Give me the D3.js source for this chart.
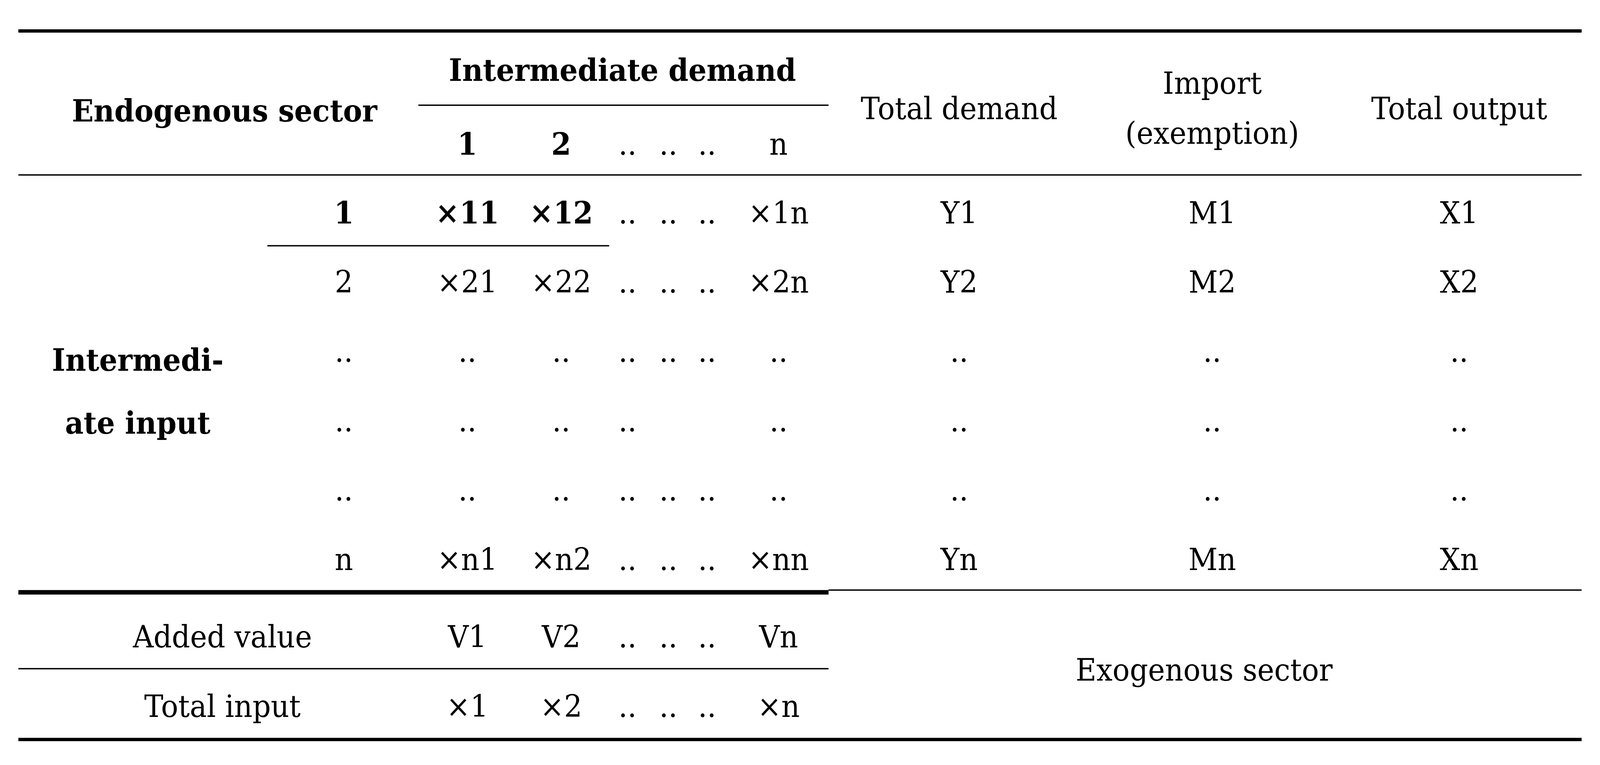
<!DOCTYPE html>
<html><head><meta charset="utf-8">
<script src="https://cdn.jsdelivr.net/npm/d3@7"></script>
<style>html,body{margin:0;padding:0;background:#fff;overflow:hidden}svg{display:block}</style></head>
<body><svg id="c"></svg>
<script>
const columns = ["label","c1","c2","d1","d2","d3","cn","Y","M","X"];
const colHeaders = ["","1","2","..","..","..","n"];
const rowLabels = ["1","2","..","..","..","n"];
const cells = [
  ["×11","×12","..","..","..","×1n","Y1","M1","X1"],
  ["×21","×22","..","..","..","×2n","Y2","M2","X2"],
  ["..","..","..","..","..","..","..","..",".."],
  ["..","..","..","","","..","..","..",".."],
  ["..","..","..","..","..","..","..","..",".."],
  ["×n1","×n2","..","..","..","×nn","Yn","Mn","Xn"]
];
const boldCells = [[0,0],[0,1]];
const addedValue = ["V1","V2","..","..","..","Vn"];
const totalInput = ["×1","×2","..","..","..","×n"];

const svg = d3.select("#c").attr("width",window.innerWidth).attr("height",window.innerHeight)
  .attr("viewBox","0 0 1568 691").attr("preserveAspectRatio","none");
const x = d3.scaleOrdinal().domain(columns).range([337,458,550,615,655,693,763,940,1188,1430]);
const y = d3.scaleLinear().domain([0,691]).range([0,691]);
const rowY = d3.scalePoint().domain(d3.range(6)).range([y(192),y(505)]);
const font = "'DejaVu Serif', serif";
const fs = 28;

function txt(xx,yy,s,bold,anchor){
  svg.append("text").attr("x",xx).attr("y",yy).attr("text-anchor",anchor||"middle")
    .attr("dominant-baseline","central").attr("font-family",font).attr("font-size",fs)
    .attr("font-weight",bold?"bold":"normal").attr("fill","#000").text(s);
}
function line(x1,x2,yy,w){
  svg.append("line").attr("x1",x1).attr("x2",x2).attr("y1",yy).attr("y2",yy)
    .attr("stroke","#000").attr("stroke-width",w);
}
const L=18, R=1550, mid=812;
line(L,R,y(28),3);
line(410,mid,y(95),1.2);
line(L,R,y(158),1.2);
line(262,597,y(222),1.2);
line(L,mid,y(535),4);
line(mid,R,y(533),1.2);
line(L,mid,y(604),1.2);
line(L,R,y(668),3);

txt(220,y(100),"Endogenous sector",true);
txt(610,y(63),"Intermediate demand",true);
colHeaders.forEach((h,i)=>{ if(i>0) txt(x(columns[i]),y(130),h,i<=2); });
txt(x("Y"),y(98),"Total demand");
txt(x("M"),y(75),"Import");
txt(x("M"),y(120),"(exemption)");
txt(x("X"),y(98),"Total output");

rowLabels.forEach((r,i)=>txt(x("label"),rowY(i),r,i===0));
cells.forEach((row,i)=>row.forEach((c,j)=>{
  if(c) txt(x(columns[j+1]),rowY(i),c,boldCells.some(b=>b[0]===i&&b[1]===j));
}));
txt(135,y(325),"Intermedi-",true);
txt(135,y(382),"ate input",true);

txt(218,y(575),"Added value");
txt(218,y(638),"Total input");
addedValue.forEach((c,j)=>txt(x(columns[j+1]),y(575),c));
totalInput.forEach((c,j)=>txt(x(columns[j+1]),y(638),c));
txt(1180,y(605),"Exogenous sector");
</script></body></html>
